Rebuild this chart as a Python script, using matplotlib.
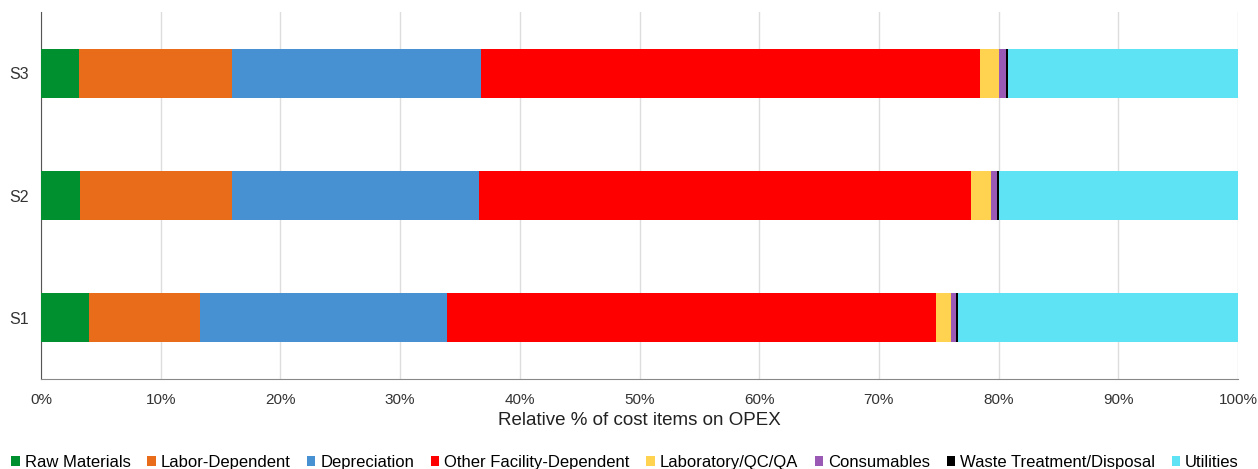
import matplotlib
matplotlib.use("Agg")
import matplotlib.pyplot as plt
import numpy as np

plt.rcParams["font.family"] = ["Liberation Sans", "DejaVu Sans"]

scenarios = ["S1", "S2", "S3"]
items = ["Raw Materials", "Labor-Dependent", "Depreciation", "Other Facility-Dependent",
         "Laboratory/QC/QA", "Consumables", "Waste Treatment/Disposal", "Utilities"]

# % share of OPEX per scenario (S1, S2, S3)
raw_materials = [4.0, 3.25, 3.2]
labor = [9.3, 12.7, 12.75]
depreciation = [20.6, 20.6, 20.8]
other_facility = [40.9, 41.15, 41.7]
laboratory = [1.2, 1.65, 1.6]
consumables = [0.45, 0.55, 0.6]
waste = [0.15, 0.15, 0.15]
utilities = [23.4, 19.95, 19.2]

series = [raw_materials, labor, depreciation, other_facility,
          laboratory, consumables, waste, utilities]
colors = ["#00902F", "#E96C1A", "#4790D2", "#FF0000",
          "#FFD24F", "#9B59B6", "#000000", "#5DE3F4"]

fig = plt.figure(figsize=(12.58, 4.69), dpi=100)
ax = fig.add_axes([41 / 1258, 1 - 379 / 469, 1197 / 1258, 367 / 469])

y = np.arange(len(scenarios))
left = np.zeros(len(scenarios))
for name, vals, c in zip(items, series, colors):
    ax.barh(y, vals, left=left, height=0.4, color=c, label=name, zorder=3)
    left += np.array(vals)

ax.set_xlim(0, 100)
ax.set_ylim(-0.5, 2.5)
ax.set_yticks(y)
ax.set_yticklabels(scenarios, fontsize=11.5, color="#333333")
ax.set_xticks(np.arange(0, 101, 10))
ax.set_xticklabels([f"{v}%" for v in range(0, 101, 10)], fontsize=11, color="#333333")
ax.tick_params(axis="x", length=0, pad=10)
ax.tick_params(axis="y", length=0, pad=9)
ax.grid(axis="x", color="#DDDDDD", linewidth=1, zorder=0)
for s in ["top", "right"]:
    ax.spines[s].set_visible(False)
ax.spines["left"].set_color("#555555")
ax.spines["bottom"].set_color("#888888")
ax.set_xlabel("Relative % of cost items on OPEX", fontsize=13.5, color="#222222", labelpad=4)

ax.legend(loc="center", bbox_to_anchor=(0.488, -0.227), ncol=8, frameon=False,
          fontsize=12, handlelength=0.5, handleheight=0.5, handletextpad=0.3,
          columnspacing=1.0, borderaxespad=0, borderpad=0)

fig.savefig("out.png", dpi=100)
